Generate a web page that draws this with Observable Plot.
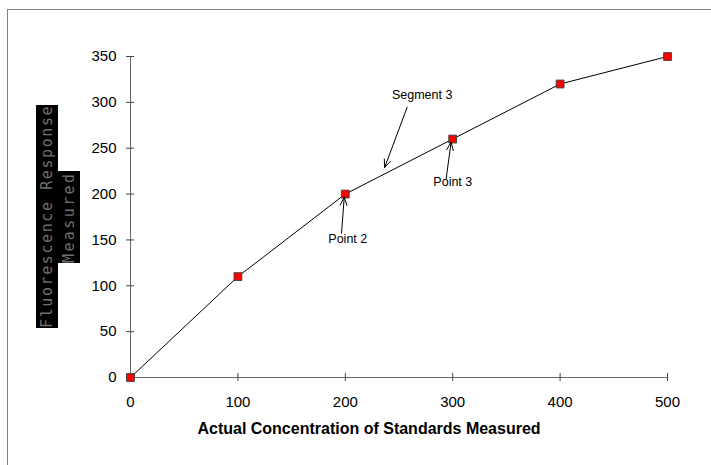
<!DOCTYPE html>
<html>
<head>
<meta charset="utf-8">
<script src="https://cdn.jsdelivr.net/npm/d3@7"></script>
<script src="https://cdn.jsdelivr.net/npm/@observablehq/plot@0.6"></script>
<style>
  html, body { margin: 0; padding: 0; background: #fff; }
  #wrap { position: relative; width: 711px; height: 465px; overflow: hidden; }
  #frame { position: absolute; left: 7px; top: 9px; right: -10px; bottom: -10px;
           border-left: 1px solid #808080; border-top: 1px solid #808080; pointer-events: none; }
  .ybox { position: absolute; background: #000; color: #707070;
          font-family: "DejaVu Sans Mono", monospace; font-size: 15px;
          writing-mode: vertical-rl; transform: rotate(180deg);
          display: flex; align-items: center; justify-content: center; white-space: nowrap; }
</style>
</head>
<body>
<div id="wrap">
  <div id="chart"></div>
  <div id="frame"></div>
</div>
<script>
const concentration = [0, 100, 200, 300, 400, 500];
const response = [0, 110, 200, 260, 320, 350];
const xTicks = [0, 100, 200, 300, 400, 500];
const yTicks = [0, 50, 100, 150, 200, 250, 300, 350];
const xLabel = "Actual Concentration of Standards Measured";
const yLabelLines = ["Fluorescence Response", "Measured"];

const annotations = [
  {label: "Segment 3", tx: 271.6, ty: 308, x1: 257.6, y1: 294.7, x2: 236.6, y2: 228.9},
  {label: "Point 2", tx: 202.3, ty: 151.3, x1: 196.5, y1: 157.3, x2: 199, y2: 196.6},
  {label: "Point 3", tx: 300.1, ty: 213.7, x1: 293.9, y1: 216.7, x2: 298.5, y2: 256.6}
];

const data = concentration.map((c, i) => ({x: c, y: response[i]}));

const chart = Plot.plot({
  width: 711,
  height: 465,
  marginLeft: 130,
  marginRight: 44,
  marginTop: 56,
  marginBottom: 88,
  style: {fontFamily: "Liberation Sans, Arial, sans-serif", background: "transparent"},
  x: {domain: [0, 500]},
  y: {domain: [0, 350]},
  marks: [
    Plot.ruleY([0], {stroke: "#666"}),
    Plot.ruleX([0], {stroke: "#666"}),
    Plot.axisY({ticks: yTicks, tickSize: 4, tickPadding: 10, stroke: "#444", fill: "#000", fontSize: 15, label: null}),
    Plot.axisY({ticks: yTicks, tickSize: 4, text: null, dx: 4, stroke: "#444", label: null}),
    Plot.axisX({ticks: xTicks, tickSize: 4, tickPadding: 15, stroke: "#444", fill: "#000", fontSize: 15, label: null}),
    Plot.axisX({ticks: xTicks, tickSize: 4, text: null, dy: -4, stroke: "#444", label: null}),
    Plot.line(data, {x: "x", y: "y", stroke: "#000", strokeWidth: 1}),
    Plot.dot(data, {x: "x", y: "y", symbol: "square", r: 4.4, fill: "#ff0000", stroke: "#444", strokeWidth: 1}),
    Plot.arrow(annotations, {x1: "x1", y1: "y1", x2: "x2", y2: "y2", stroke: "#000", strokeWidth: 1, headLength: 13, headAngle: 45, insetStart: 0, insetEnd: 0}),
    Plot.text(annotations, {x: "tx", y: "ty", text: "label", fontSize: 12.5, fill: "#000"}),
    Plot.text([xLabel], {frameAnchor: "bottom", dy: 56, dx: -30, text: d => d, fontSize: 16, fontWeight: "bold", fill: "#000"})
  ]
});
document.getElementById("chart").appendChild(chart);

const wrap = document.getElementById("wrap");
const boxes = [
  {left: 36, top: 105, width: 22, height: 223, spacing: 1.6},
  {left: 58, top: 171, width: 22, height: 92, spacing: 2.4}
];
yLabelLines.forEach((t, i) => {
  const b = boxes[i];
  const d = document.createElement("div");
  d.className = "ybox";
  Object.assign(d.style, {left: b.left + "px", top: b.top + "px", width: b.width + "px", height: b.height + "px", letterSpacing: b.spacing + "px"});
  d.textContent = t;
  wrap.appendChild(d);
});
</script>
</body>
</html>
